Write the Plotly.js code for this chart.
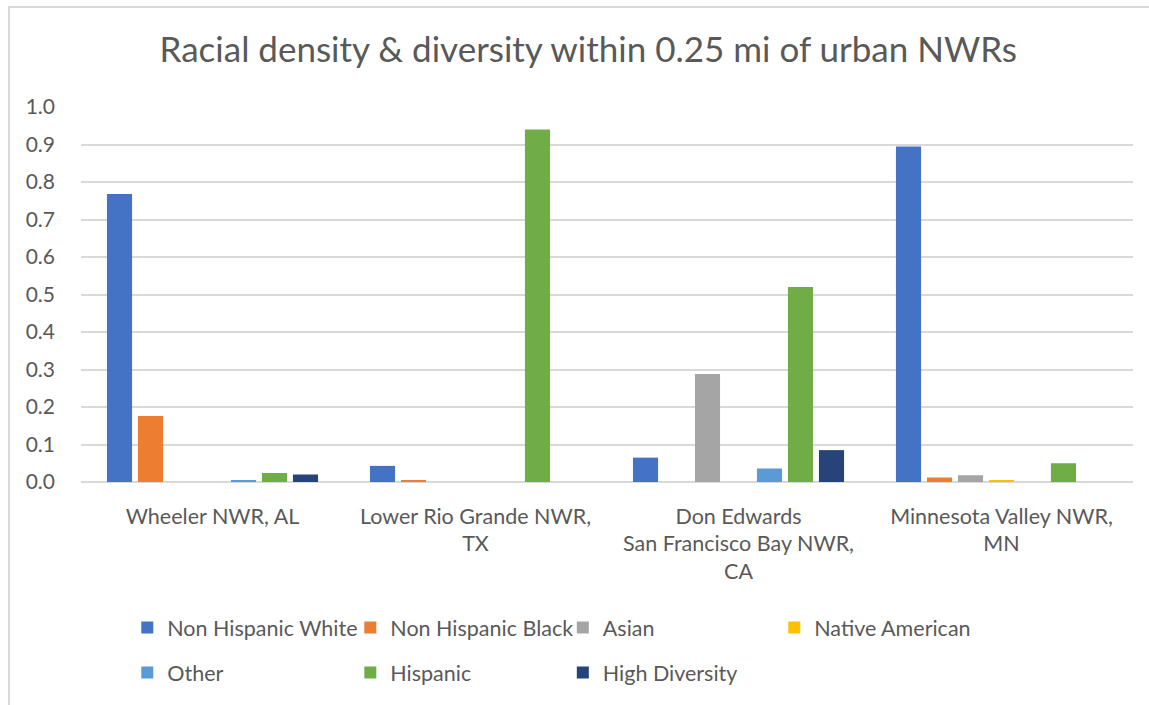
<!DOCTYPE html>
<html>
<head>
<meta charset="utf-8">
<script src="https://cdn.plot.ly/plotly-3.0.1.min.js"></script>
<style>
  html, body { margin: 0; padding: 0; background: #ffffff; overflow: hidden; }
  #wrap { position: relative; width: 1149px; height: 705px; overflow: hidden; }
  #chart { position: absolute; left: 0; top: 0; width: 1149px; height: 712px; }
  #frame { position: absolute; left: 8px; top: 6px; width: 1160px; height: 720px;
           border-left: 2px solid #d9d9d9; border-top: 2px solid #d9d9d9; pointer-events: none; }
</style>
</head>
<body>
<div id="wrap">
  <div id="chart"></div>
  <div id="frame"></div>
</div>
<script>
const categories = [
  "Wheeler NWR, AL",
  "Lower Rio Grande NWR,<br>TX",
  "Don Edwards<br>San Francisco Bay NWR,<br>CA",
  "Minnesota Valley NWR,<br>MN"
];
const seriesNames = ["Non Hispanic White", "Non Hispanic Black", "Asian", "Native American", "Other", "Hispanic", "High Diversity"];
const nonHispanicWhite = [0.768, 0.043, 0.065, 0.895];
const nonHispanicBlack = [0.176, 0.004, 0.0, 0.012];
const asian            = [0.0, 0.0, 0.288, 0.018];
const nativeAmerican   = [0.0, 0.0, 0.0, 0.004];
const other            = [0.005, 0.0, 0.036, 0.0];
const hispanic         = [0.024, 0.940, 0.520, 0.050];
const highDiversity    = [0.020, 0.0, 0.085, 0.0];
const seriesValues = [nonHispanicWhite, nonHispanicBlack, asian, nativeAmerican, other, hispanic, highDiversity];
const colors = ["#4472C4", "#ED7D31", "#A5A5A5", "#FFC000", "#5B9BD5", "#70AD47", "#264478"];
const legendOf = ["legend", "legend2", "legend3", "legend4", "legend", "legend2", "legend3"];

const FONT = "Lato, 'Open Sans', sans-serif";
const TXT = "#595959";

const traces = seriesNames.map((name, i) => ({
  type: "bar",
  name: name,
  x: categories,
  y: seriesValues[i],
  marker: { color: colors[i], line: { width: 0 } },
  legend: legendOf[i],
  legendgroup: "g" + i,
  hoverinfo: "name+y"
}));

function leg(x) {
  return {
    x: x, xref: "paper", xanchor: "left",
    y: -0.3335, yref: "paper", yanchor: "top",
    orientation: "v",
    traceorder: "grouped",
    tracegroupgap: 14,
    font: { family: FONT, size: 21.5, color: TXT },
    bgcolor: "rgba(0,0,0,0)",
    itemclick: false, itemdoubleclick: false
  };
}

const layout = {
  width: 1149, height: 712,
  margin: { l: 81, r: 16, t: 107, b: 230 },
  paper_bgcolor: "rgba(0,0,0,0)",
  plot_bgcolor: "#ffffff",
  barmode: "group",
  bargap: 0.175,
  bargroupgap: 0.19,
  title: {
    text: "Racial density & diversity within 0.25 mi of urban NWRs",
    font: { family: FONT, size: 35, color: TXT },
    x: 0.512, xref: "container", xanchor: "center",
    y: 1 - 50 / 712, yref: "container", yanchor: "middle"
  },
  font: { family: FONT, color: TXT },
  xaxis: {
    tickfont: { family: FONT, size: 21.5, color: TXT },
    showgrid: false,
    showline: false,
    ticks: "",
    ticklabelstandoff: 19,
    fixedrange: true
  },
  yaxis: {
    range: [0, 1.0],
    dtick: 0.1,
    tickformat: ".1f",
    tickfont: { family: FONT, size: 21, color: TXT },
    showgrid: true,
    gridcolor: "#d9d9d9",
    gridwidth: 1.5,
    zeroline: true,
    zerolinecolor: "#d9d9d9",
    zerolinewidth: 1.5,
    showline: false,
    ticks: "",
    ticklabelstandoff: 25,
    fixedrange: true
  },
  showlegend: true,
  legend: leg(0.044),
  legend2: leg(0.256),
  legend3: leg(0.458),
  legend4: leg(0.659)
};

Plotly.newPlot("chart", traces, layout, { displayModeBar: false, responsive: false });
</script>
</body>
</html>
